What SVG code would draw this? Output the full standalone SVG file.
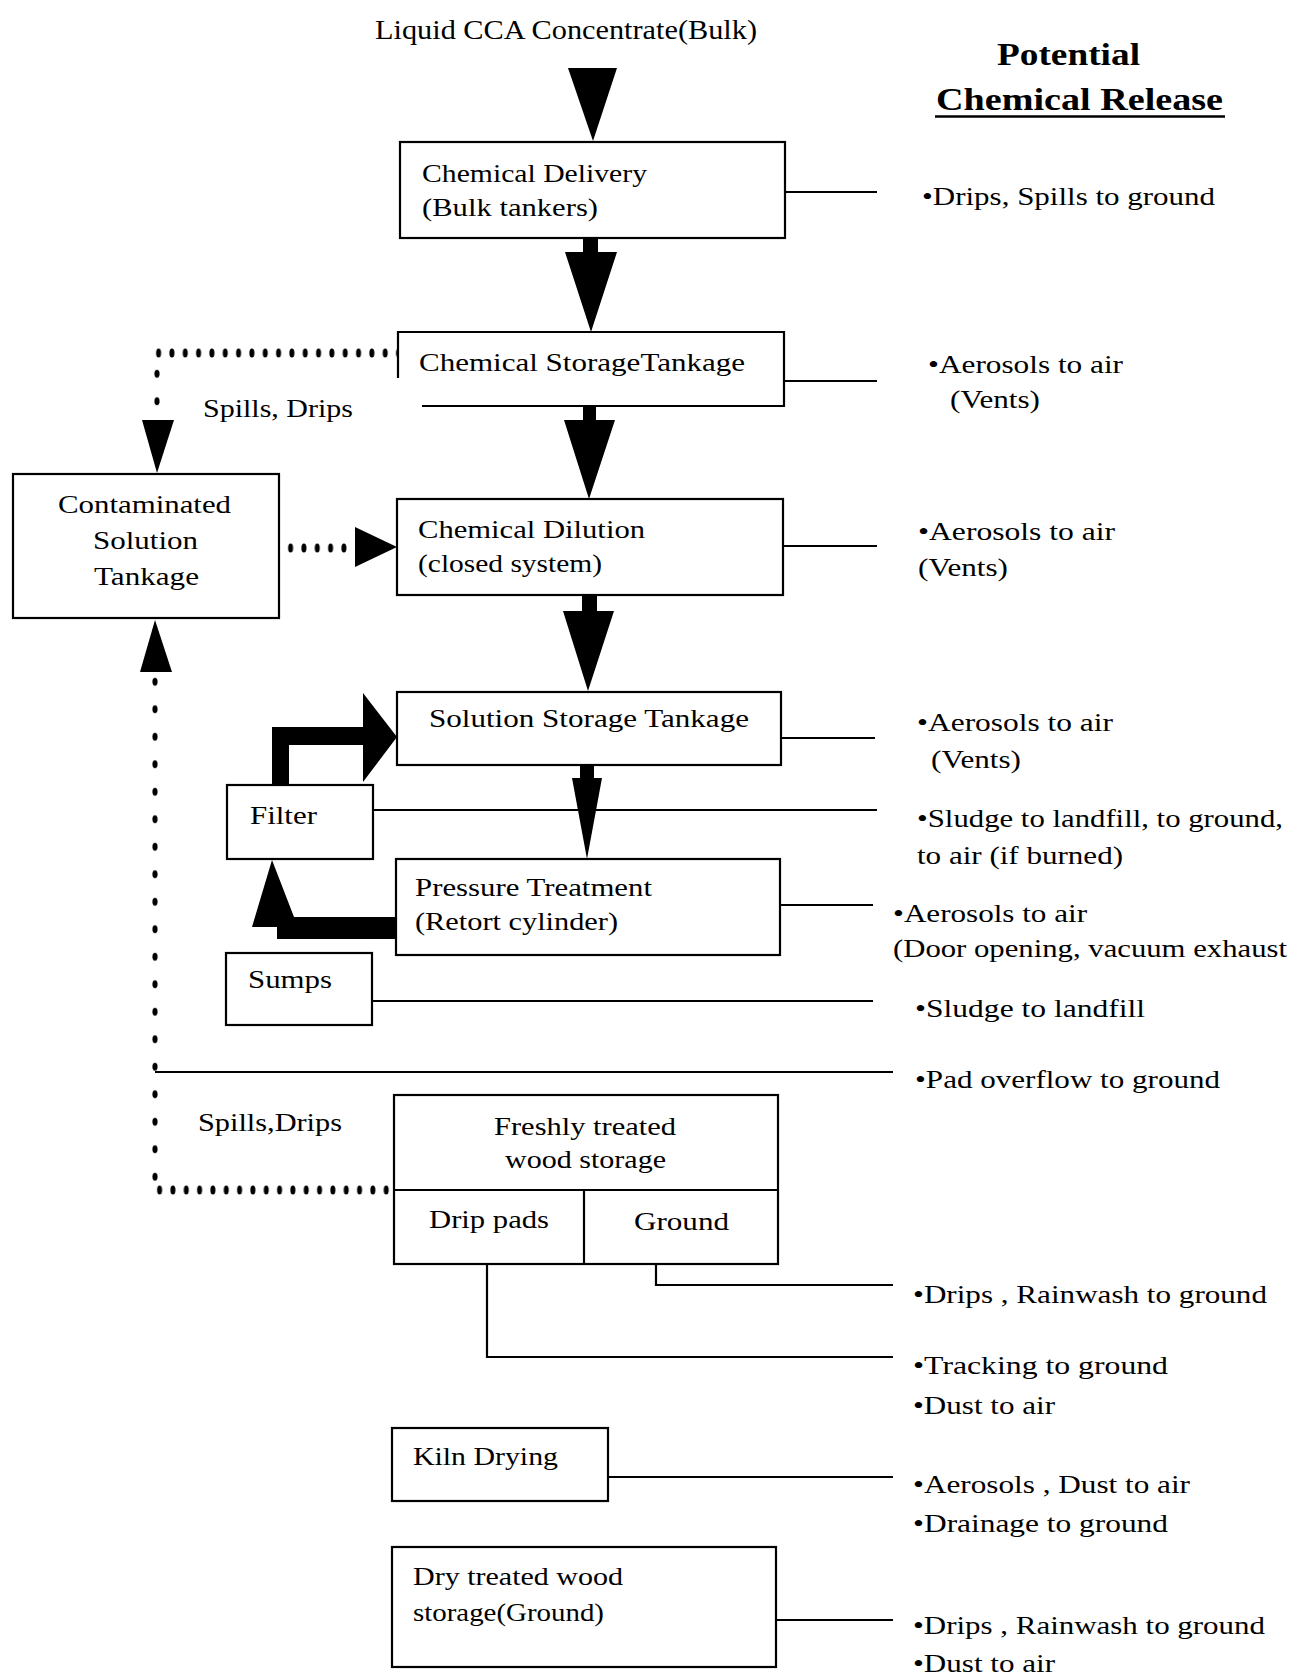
<svg xmlns="http://www.w3.org/2000/svg" width="1293" height="1677" viewBox="0 0 1293 1677">
<style>
text{font-family:"Liberation Serif","Times New Roman",serif;font-size:26px;fill:#000}
.b{font-weight:bold;font-size:32px}
.t{font-size:27px}
.box{fill:#fff;stroke:#000;stroke-width:2.2}
.ln{fill:none;stroke:#000;stroke-width:2.2}
.ar{fill:#000;stroke:none}
</style>
<defs>
<pattern id="hd" patternUnits="userSpaceOnUse" width="13.33" height="12"><ellipse cx="6.6" cy="6" rx="2.5" ry="4.6" fill="#000"/></pattern>
<pattern id="vd" patternUnits="userSpaceOnUse" width="8" height="27.5"><ellipse cx="4" cy="13.7" rx="2.6" ry="4" fill="#000"/></pattern>
</defs>
<rect width="1293" height="1677" fill="#fff"/>

<g id="connectors">
<!-- main flow arrows -->
<polygon class="ar" points="568,68 617,68 593,141"/>
<polygon class="ar" points="583,238 598,238 598,252 617,252 591,332 565,252 583,252"/>
<polygon class="ar" points="583,406 596,406 596,420 615,420 589,499 564,420 583,420"/>
<polygon class="ar" points="582,595 597,595 597,611 614,611 588,691 563,611 582,611"/>
<polygon class="ar" points="580,765 594,765 594,778 602,778 587,859 572,778 580,778"/>
<!-- filter loop arrows -->
<polygon class="ar" points="272,785 272,727 363,727 363,693 397,737 363,782 363,745 289,745 289,785"/>
<polygon class="ar" points="272,860 294,917 396,917 396,939 277,939 277,927 252,927"/>
<!-- dotted spill paths -->
<g transform="translate(152,347)"><rect width="245" height="12" fill="url(#hd)"/></g>
<g transform="translate(153,360)"><rect width="8" height="60" fill="url(#vd)"/></g>
<polygon class="ar" points="142,420 174,420 157,473"/>
<g transform="translate(284,542)"><rect width="70" height="12" fill="url(#hd)"/></g>
<polygon class="ar" points="355,527 355,567 397,547"/>
<polygon class="ar" points="140,672 172,672 155,620"/>
<g transform="translate(151,668)"><rect width="8" height="525" fill="url(#vd)"/></g>
<g transform="translate(153,1184)"><rect width="240" height="12" fill="url(#hd)"/></g>
<!-- release lines -->
<line class="ln" x1="785" y1="192" x2="877" y2="192"/>
<line class="ln" x1="784" y1="381" x2="877" y2="381"/>
<line class="ln" x1="783" y1="546" x2="877" y2="546"/>
<line class="ln" x1="781" y1="738" x2="875" y2="738"/>
<line class="ln" x1="373" y1="810" x2="877" y2="810"/>
<line class="ln" x1="780" y1="905" x2="873" y2="905"/>
<line class="ln" x1="372" y1="1001" x2="873" y2="1001"/>
<line class="ln" x1="155" y1="1072" x2="893" y2="1072"/>
<polyline class="ln" points="656,1264 656,1285 893,1285"/>
<polyline class="ln" points="487,1264 487,1357 893,1357"/>
<line class="ln" x1="608" y1="1477" x2="893" y2="1477"/>
<line class="ln" x1="776" y1="1620" x2="893" y2="1620"/>
</g>

<g id="title"><text class="t" x="375" y="39" textLength="382" lengthAdjust="spacingAndGlyphs">Liquid CCA Concentrate(Bulk)</text></g>

<g id="header">
<text class="b" x="997" y="65" textLength="143" lengthAdjust="spacingAndGlyphs">Potential</text>
<text class="b" x="936" y="110" textLength="287" lengthAdjust="spacingAndGlyphs">Chemical Release</text>
<line x1="935" y1="116.5" x2="1225" y2="116.5" stroke="#000" stroke-width="2.5"/>
</g>

<g id="delivery">
<rect class="box" x="400" y="142" width="385" height="96"/>
<text x="422" y="182" textLength="225" lengthAdjust="spacingAndGlyphs">Chemical Delivery</text>
<text x="422" y="216" textLength="176" lengthAdjust="spacingAndGlyphs">(Bulk tankers)</text>
</g>

<g id="storage">
<path class="ln" d="M398,378 V332 H784 V406 H422"/>
<text x="419" y="371" textLength="326" lengthAdjust="spacingAndGlyphs">Chemical StorageTankage</text>
</g>

<g id="dilution">
<rect class="box" x="397" y="499" width="386" height="96"/>
<text x="418" y="538" textLength="227" lengthAdjust="spacingAndGlyphs">Chemical Dilution</text>
<text x="418" y="572" textLength="184" lengthAdjust="spacingAndGlyphs">(closed system)</text>
</g>

<g id="contaminated">
<rect class="box" x="13" y="474" width="266" height="144"/>
<text x="58" y="513" textLength="173" lengthAdjust="spacingAndGlyphs">Contaminated</text>
<text x="93" y="549" textLength="105" lengthAdjust="spacingAndGlyphs">Solution</text>
<text x="94" y="585" textLength="105" lengthAdjust="spacingAndGlyphs">Tankage</text>
</g>
<g id="label-spills1"><text x="203" y="417" textLength="150" lengthAdjust="spacingAndGlyphs">Spills, Drips</text></g>

<g id="solution-storage">
<rect class="box" x="397" y="692" width="384" height="73"/>
<text x="429" y="727" textLength="320" lengthAdjust="spacingAndGlyphs">Solution Storage Tankage</text>
</g>

<g id="filter">
<rect class="box" x="227" y="785" width="146" height="74"/>
<text x="250" y="824" textLength="67" lengthAdjust="spacingAndGlyphs">Filter</text>
</g>

<g id="pressure">
<rect class="box" x="396" y="859" width="384" height="96"/>
<text x="415" y="896" textLength="237" lengthAdjust="spacingAndGlyphs">Pressure Treatment</text>
<text x="415" y="930" textLength="203" lengthAdjust="spacingAndGlyphs">(Retort cylinder)</text>
</g>

<g id="sumps">
<rect class="box" x="226" y="953" width="146" height="72"/>
<text x="248" y="988" textLength="84" lengthAdjust="spacingAndGlyphs">Sumps</text>
</g>

<g id="label-spills2"><text x="198" y="1131" textLength="144" lengthAdjust="spacingAndGlyphs">Spills,Drips</text></g>

<g id="fresh">
<rect class="box" x="394" y="1095" width="384" height="169"/>
<line class="ln" x1="394" y1="1190" x2="778" y2="1190"/>
<line class="ln" x1="584" y1="1190" x2="584" y2="1264"/>
<text x="494" y="1135" textLength="182" lengthAdjust="spacingAndGlyphs">Freshly treated</text>
<text x="505" y="1168" textLength="161" lengthAdjust="spacingAndGlyphs">wood storage</text>
<text x="429" y="1228" textLength="120" lengthAdjust="spacingAndGlyphs">Drip pads</text>
<text x="634" y="1230" textLength="95" lengthAdjust="spacingAndGlyphs">Ground</text>
</g>

<g id="kiln">
<rect class="box" x="392" y="1428" width="216" height="73"/>
<text x="413" y="1465" textLength="145" lengthAdjust="spacingAndGlyphs">Kiln Drying</text>
</g>

<g id="dry">
<rect class="box" x="392" y="1547" width="384" height="120"/>
<text x="413" y="1585" textLength="210" lengthAdjust="spacingAndGlyphs">Dry treated wood</text>
<text x="413" y="1621" textLength="191" lengthAdjust="spacingAndGlyphs">storage(Ground)</text>
</g>

<g id="releases">
<text x="922" y="205" textLength="293" lengthAdjust="spacingAndGlyphs">•Drips, Spills to ground</text>
<text x="928" y="373" textLength="195" lengthAdjust="spacingAndGlyphs">•Aerosols to air</text>
<text x="950" y="408" textLength="90" lengthAdjust="spacingAndGlyphs">(Vents)</text>
<text x="918" y="540" textLength="197" lengthAdjust="spacingAndGlyphs">•Aerosols to air</text>
<text x="918" y="576" textLength="90" lengthAdjust="spacingAndGlyphs">(Vents)</text>
<text x="917" y="731" textLength="196" lengthAdjust="spacingAndGlyphs">•Aerosols to air</text>
<text x="931" y="768" textLength="90" lengthAdjust="spacingAndGlyphs">(Vents)</text>
<text x="917" y="827" textLength="366" lengthAdjust="spacingAndGlyphs">•Sludge to landfill, to ground,</text>
<text x="917" y="864" textLength="206" lengthAdjust="spacingAndGlyphs">to air (if burned)</text>
<text x="893" y="922" textLength="194" lengthAdjust="spacingAndGlyphs">•Aerosols to air</text>
<text x="893" y="957" textLength="394" lengthAdjust="spacingAndGlyphs">(Door opening, vacuum exhaust</text>
<text x="915" y="1017" textLength="230" lengthAdjust="spacingAndGlyphs">•Sludge to landfill</text>
<text x="915" y="1088" textLength="305" lengthAdjust="spacingAndGlyphs">•Pad overflow to ground</text>
<text x="913" y="1303" textLength="354" lengthAdjust="spacingAndGlyphs">•Drips , Rainwash to ground</text>
<text x="913" y="1374" textLength="255" lengthAdjust="spacingAndGlyphs">•Tracking to ground</text>
<text x="913" y="1414" textLength="142" lengthAdjust="spacingAndGlyphs">•Dust to air</text>
<text x="913" y="1493" textLength="277" lengthAdjust="spacingAndGlyphs">•Aerosols , Dust to air</text>
<text x="913" y="1532" textLength="255" lengthAdjust="spacingAndGlyphs">•Drainage to ground</text>
<text x="913" y="1634" textLength="352" lengthAdjust="spacingAndGlyphs">•Drips , Rainwash to ground</text>
<text x="913" y="1672" textLength="142" lengthAdjust="spacingAndGlyphs">•Dust to air</text>
</g>
</svg>
